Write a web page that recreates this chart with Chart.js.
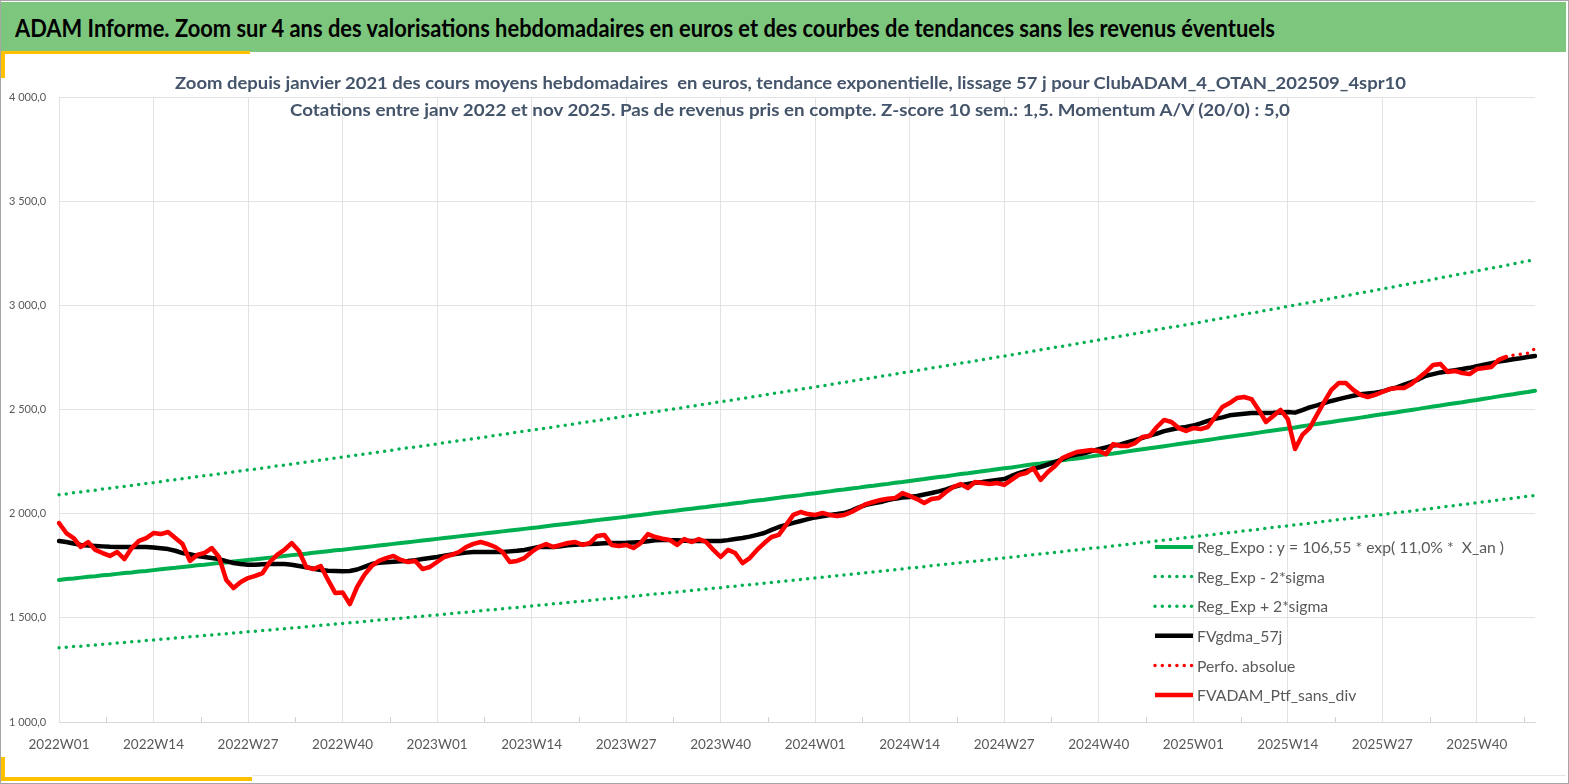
<!DOCTYPE html>
<html lang="fr">
<head>
<meta charset="utf-8">
<title>ADAM Informe</title>
<script src="https://cdn.jsdelivr.net/npm/chart.js@4.4.1/dist/chart.umd.min.js"></script>
<style>
  html, body { margin: 0; padding: 0; background: #fff; }
  #page { position: relative; width: 1569px; height: 784px; overflow: hidden; background: #fff; font-family: Lato, "Open Sans", sans-serif; }
  #graphique { position: absolute; left: 0; top: 0; }
  #bandeau { position: absolute; left: 0; top: 2px; width: 1566px; height: 50px; background: #7DC67E; }
  .jaune { position: absolute; background: #FFC000; }
  .ajuste { position: absolute; display: inline-block; white-space: pre; transform-origin: left center; font-weight: bold; }
  #texteBandeau { top: 13px; font-size: 24px; line-height: 30px; color: #000; }
  .titre { font-size: 17.5px; line-height: 22px; color: #44546A; }
  #cadre { position: absolute; left: 0; top: 0; width: 1567px; height: 782px; border: 1px solid #A6A6A6; pointer-events: none; }
  #filet { position: absolute; left: 252px; top: 775px; width: 1314px; height: 1px; background: #E6E6E6; }
</style>
</head>
<body>
<div id="page">
  <canvas id="graphique" width="1569" height="784"></canvas>
  <div id="bandeau"></div>
  <span id="texteBandeau" class="ajuste" data-gauche="15" data-largeur="1260">ADAM Informe. Zoom sur 4 ans des valorisations hebdomadaires en euros et des courbes de tendances sans les revenus éventuels</span>
  <div class="jaune" style="left:0;top:51px;width:250px;height:3px"></div>
  <div class="jaune" style="left:0;top:51px;width:5px;height:27px"></div>
  <div class="jaune" style="left:0;top:777px;width:252px;height:4px"></div>
  <div class="jaune" style="left:0;top:757px;width:5px;height:24px"></div>
  <div id="filet"></div>
  <span class="ajuste titre" style="top:72px" data-centre="790" data-largeur="1231">Zoom depuis janvier 2021 des cours moyens hebdomadaires  en euros, tendance exponentielle, lissage 57 j pour ClubADAM_4_OTAN_202509_4spr10</span>
  <span class="ajuste titre" style="top:99px" data-centre="790" data-largeur="1000">Cotations entre janv 2022 et nov 2025. Pas de revenus pris en compte. Z-score 10 sem.: 1,5. Momentum A/V (20/0) : 5,0</span>
  <div id="cadre"></div>
</div>

<script>
// Semaines ISO affichées (2022W01 -> 2025W48)
const annees = [2022, 2023, 2024, 2025];
const nbSemaines = [52, 52, 52, 48];
const semaines = [];
annees.forEach((a, k) => {
    for (let w = 1; w <= nbSemaines[k]; w++) semaines.push(a + 'W' + String(w).padStart(2, '0'));
});

// Valorisation hebdo du portefeuille (sans dividendes), jusqu'à 2025W44
const ptfSansDiv = [
    1955, 1907, 1883, 1840, 1864, 1826, 1811, 1797, 1816, 1782,
    1835, 1869, 1883, 1907, 1902, 1912, 1883, 1854, 1773, 1802,
    1811, 1835, 1792, 1682, 1643, 1672, 1691, 1701, 1715, 1768,
    1802, 1826, 1859, 1821, 1744, 1734, 1749, 1682, 1619, 1622,
    1566, 1648, 1706, 1749, 1773, 1787, 1797, 1778, 1768, 1773,
    1734, 1744, 1768, 1792, 1802, 1816, 1840, 1855, 1864, 1854,
    1840, 1816, 1768, 1773, 1787, 1816, 1840, 1854, 1840, 1850,
    1859, 1864, 1850, 1859, 1893, 1898, 1850, 1845, 1850, 1835,
    1859, 1902, 1888, 1880, 1874, 1850, 1878, 1864, 1878, 1864,
    1826, 1792, 1826, 1811, 1763, 1787, 1826, 1859, 1888, 1898,
    1946, 1994, 2008, 1998, 1994, 2003, 1994, 1989, 1994, 2008,
    2027, 2046, 2056, 2066, 2072, 2075, 2099, 2085, 2070, 2051,
    2070, 2075, 2104, 2128, 2142, 2123, 2152, 2147, 2142, 2147,
    2138, 2162, 2186, 2195, 2219, 2162, 2200, 2229, 2267, 2282,
    2296, 2301, 2306, 2301, 2286, 2334, 2325, 2325, 2339, 2368,
    2373, 2416, 2450, 2440, 2411, 2397, 2411, 2406, 2416, 2464,
    2512, 2531, 2555, 2560, 2550, 2498, 2440, 2469, 2498, 2454,
    2310, 2378, 2411, 2474, 2536, 2594, 2627, 2627, 2594, 2570,
    2560, 2570, 2584, 2598, 2603, 2603, 2622, 2651, 2680, 2714,
    2718, 2680, 2685, 2675, 2670, 2694, 2699, 2704, 2738, 2752
];

// Perfo. absolue : visible seulement sur les dernières semaines
const perfoSemaines = ['2025W44', '2025W45', '2025W46', '2025W47', '2025W48'];
const perfoValeurs = [2752, 2760, 2765, 2770, 2792];

// Moyenne mobile 57 j
const gdma57j = [
    1869, 1864, 1857, 1850, 1847, 1845, 1843, 1841, 1840, 1840,
    1840, 1840, 1840, 1838, 1834, 1830, 1822, 1811, 1805, 1797,
    1792, 1787, 1782, 1772, 1763, 1758, 1755, 1755, 1757, 1758,
    1758, 1758, 1755, 1749, 1743, 1736, 1730, 1726, 1725, 1724,
    1725, 1732, 1745, 1758, 1764, 1767, 1769, 1771, 1773, 1777,
    1782, 1787, 1792, 1798, 1804, 1809, 1813, 1816, 1816, 1816,
    1816, 1816, 1819, 1822, 1826, 1833, 1840, 1840, 1840, 1843,
    1848, 1851, 1853, 1854, 1856, 1858, 1859, 1859, 1860, 1862,
    1864, 1868, 1872, 1874, 1873, 1872, 1870, 1869, 1869, 1869,
    1869, 1869, 1873, 1878, 1883, 1890, 1898, 1907, 1922, 1936,
    1946, 1956, 1965, 1974, 1982, 1988, 1994, 1998, 2003, 2015,
    2030, 2042, 2050, 2056, 2065, 2072, 2077, 2080, 2085, 2092,
    2099, 2107, 2116, 2128, 2137, 2143, 2148, 2152, 2157, 2162,
    2166, 2181, 2195, 2205, 2215, 2224, 2236, 2248, 2262, 2277,
    2284, 2290, 2300, 2309, 2318, 2327, 2332, 2343, 2353, 2364,
    2375, 2384, 2396, 2404, 2411, 2416, 2423, 2433, 2445, 2455,
    2462, 2472, 2476, 2480, 2483, 2483, 2483, 2484, 2486, 2488,
    2485, 2497, 2510, 2520, 2531, 2541, 2550, 2558, 2566, 2573,
    2577, 2581, 2586, 2598, 2606, 2619, 2631, 2645, 2662, 2670,
    2678, 2684, 2689, 2694, 2700, 2708, 2715, 2722, 2730, 2735,
    2741, 2746, 2752, 2757
];

// Régression exponentielle
const regExpo = [
    1682, 1686, 1689, 1693, 1697, 1700, 1704, 1707, 1711, 1715, 1718, 1722, 1725, 1729,
    1733, 1737, 1740, 1744, 1748, 1752, 1755, 1759, 1763, 1766, 1770, 1774, 1778,
    1781, 1785, 1789, 1793, 1797, 1801, 1804, 1808, 1812, 1816, 1820, 1824, 1827,
    1831, 1835, 1839, 1843, 1847, 1851, 1855, 1859, 1863, 1867, 1871, 1875, 1879,
    1883, 1887, 1891, 1895, 1899, 1903, 1907, 1911, 1915, 1919, 1923, 1927, 1931,
    1935, 1940, 1944, 1948, 1952, 1956, 1960, 1965, 1969, 1973, 1977, 1981, 1985,
    1990, 1994, 1998, 2003, 2007, 2011, 2015, 2020, 2024, 2028, 2032, 2037, 2041,
    2045, 2050, 2054, 2059, 2063, 2067, 2072, 2076, 2081, 2085, 2089, 2094, 2098,
    2103, 2107, 2112, 2116, 2121, 2125, 2130, 2134, 2139, 2143, 2148, 2152, 2157,
    2162, 2166, 2171, 2176, 2180, 2185, 2190, 2194, 2199, 2204, 2208, 2213, 2218,
    2222, 2227, 2232, 2237, 2241, 2246, 2251, 2256, 2261, 2265, 2270, 2275, 2280,
    2285, 2289, 2294, 2299, 2304, 2309, 2314, 2319, 2324, 2329, 2334, 2339, 2344,
    2349, 2354, 2359, 2364, 2369, 2374, 2379, 2384, 2389, 2394, 2399, 2404, 2409,
    2414, 2420, 2425, 2430, 2435, 2440, 2446, 2451, 2456, 2461, 2466, 2472, 2477,
    2482, 2487, 2493, 2498, 2503, 2509, 2514, 2519, 2525, 2530, 2535, 2541, 2546,
    2552, 2557, 2563, 2568, 2573, 2579, 2584, 2590
];

// Bande basse (- 2 sigma)
const bandeBasse = [
    1356, 1359, 1362, 1364, 1367, 1370, 1373, 1376, 1379, 1382, 1385, 1388, 1391, 1394,
    1397, 1400, 1403, 1406, 1409, 1412, 1415, 1418, 1421, 1424, 1427, 1430, 1433,
    1436, 1439, 1442, 1445, 1448, 1451, 1454, 1457, 1461, 1464, 1467, 1470, 1473,
    1476, 1479, 1482, 1486, 1489, 1492, 1495, 1498, 1502, 1505, 1508, 1511, 1514,
    1517, 1521, 1524, 1527, 1530, 1534, 1537, 1540, 1544, 1547, 1550, 1553, 1557,
    1560, 1563, 1567, 1570, 1573, 1577, 1580, 1583, 1587, 1590, 1593, 1597, 1600,
    1604, 1607, 1611, 1614, 1617, 1621, 1624, 1628, 1631, 1635, 1638, 1642, 1645,
    1649, 1652, 1656, 1659, 1663, 1666, 1670, 1673, 1677, 1681, 1684, 1688, 1691,
    1695, 1698, 1702, 1706, 1709, 1713, 1717, 1720, 1724, 1728, 1731, 1735, 1739,
    1742, 1746, 1750, 1754, 1757, 1761, 1765, 1769, 1772, 1776, 1780, 1784, 1787,
    1791, 1795, 1799, 1803, 1807, 1810, 1814, 1818, 1822, 1826, 1830, 1834, 1837,
    1841, 1845, 1849, 1853, 1857, 1861, 1865, 1869, 1873, 1877, 1881, 1885, 1889,
    1893, 1897, 1901, 1905, 1909, 1913, 1917, 1921, 1925, 1930, 1934, 1938, 1942,
    1946, 1950, 1954, 1958, 1963, 1967, 1971, 1975, 1979, 1984, 1988, 1992, 1996,
    2001, 2005, 2009, 2013, 2018, 2022, 2026, 2031, 2035, 2039, 2044, 2048, 2052,
    2057, 2061, 2065, 2070, 2074, 2079, 2083, 2087
];

// Bande haute (+ 2 sigma)
const bandeHaute = [
    2091, 2095, 2100, 2104, 2109, 2113, 2118, 2122, 2127, 2131, 2136, 2140, 2145, 2149,
    2154, 2159, 2163, 2168, 2173, 2177, 2182, 2186, 2191, 2196, 2200, 2205, 2210,
    2214, 2219, 2224, 2229, 2233, 2238, 2243, 2248, 2252, 2257, 2262, 2267, 2272,
    2276, 2281, 2286, 2291, 2296, 2301, 2306, 2311, 2316, 2320, 2325, 2330, 2335,
    2340, 2345, 2350, 2355, 2360, 2365, 2370, 2375, 2380, 2386, 2391, 2396, 2401,
    2406, 2411, 2416, 2421, 2426, 2432, 2437, 2442, 2447, 2452, 2458, 2463, 2468,
    2473, 2479, 2484, 2489, 2494, 2500, 2505, 2510, 2516, 2521, 2526, 2532, 2537,
    2542, 2548, 2553, 2559, 2564, 2570, 2575, 2581, 2586, 2592, 2597, 2603, 2608,
    2614, 2619, 2625, 2631, 2636, 2642, 2647, 2653, 2659, 2664, 2670, 2676, 2681,
    2687, 2693, 2699, 2704, 2710, 2716, 2722, 2727, 2733, 2739, 2745, 2751, 2756,
    2762, 2768, 2774, 2780, 2786, 2792, 2798, 2804, 2810, 2816, 2822, 2828, 2834,
    2840, 2846, 2852, 2858, 2864, 2870, 2876, 2883, 2889, 2895, 2901, 2907, 2913,
    2919, 2926, 2932, 2938, 2944, 2951, 2957, 2963, 2969, 2976, 2982, 2988, 2995,
    3001, 3007, 3014, 3020, 3027, 3033, 3040, 3046, 3053, 3059, 3066, 3072, 3079,
    3085, 3092, 3098, 3105, 3112, 3118, 3125, 3132, 3138, 3145, 3152, 3158, 3165,
    3172, 3178, 3185, 3192, 3199, 3206, 3212, 3219
];

const VERT = '#00B050';
const ROUGE = '#FF0000';
const GRIS_TEXTE = '#595959';
const GRILLE = '#E2E2E2';

// format "4 000,0"
function formatFr(v) {
    const parts = v.toFixed(1).split('.');
    return parts[0].replace(/\B(?=(\d{3})+(?!\d))/g, ' ') + ',' + parts[1];
}

// petites graduations entre les étiquettes
const graduations = {
    id: 'graduations',
    beforeDatasetsDraw(chart) {
        const sx = chart.scales.x, ctx = chart.ctx, bas = chart.chartArea.bottom;
        ctx.save();
        ctx.strokeStyle = '#D0D0D0';
        ctx.lineWidth = 1;
        for (let i = 6.5; i < semaines.length - 1; i += 13) {
            const px = Math.round(sx.getPixelForValue(i)) + 0.5;
            ctx.beginPath();
            ctx.moveTo(px, bas - 5);
            ctx.lineTo(px, bas);
            ctx.stroke();
        }
        ctx.restore();
    }
};

// légende dessinée dans la zone du graphique (en bas à droite)
const ordreLegende = [0, 1, 2, 3, 4, 5];
const legendeInterne = {
    id: 'legendeInterne',
    afterDraw(chart) {
        const ctx = chart.ctx;
        const zone = chart.chartArea;
        const x0 = zone.right - 380;
        const y0 = zone.bottom - 175;
        ctx.save();
        ctx.font = '16px Lato, "Open Sans", sans-serif';
        const echelle = 307 / ctx.measureText(chart.data.datasets[ordreLegende[0]].label).width;
        ordreLegende.forEach((di, k) => {
            const ds = chart.data.datasets[di];
            const y = y0 + k * 29.6;
            ctx.beginPath();
            ctx.strokeStyle = ds.borderColor;
            ctx.lineWidth = ds.borderWidth;
            ctx.setLineDash(ds.borderDash || []);
            ctx.lineCap = ds.borderCapStyle || 'butt';
            ctx.moveTo(x0, y);
            ctx.lineTo(x0 + 38, y);
            ctx.stroke();
            ctx.setLineDash([]);
            ctx.save();
            ctx.translate(x0 + 42, y);
            ctx.scale(echelle, 1);
            ctx.fillStyle = GRIS_TEXTE;
            ctx.textBaseline = 'middle';
            ctx.fillText(ds.label, 0, 1);
            ctx.restore();
        });
        ctx.restore();
    }
};

const pointille = { borderDash: [0, 7.3], borderCapStyle: 'round', borderWidth: 3.5 };

const config = {
    type: 'line',
    data: {
        labels: semaines,
        datasets: [
            { label: 'Reg_Expo : y = 106,55 * exp( 11,0% *  X_an )', data: regExpo, borderColor: VERT, borderWidth: 4, order: 3 },
            Object.assign({ label: 'Reg_Exp - 2*sigma', data: bandeBasse, borderColor: VERT, order: 4 }, pointille),
            Object.assign({ label: 'Reg_Exp + 2*sigma', data: bandeHaute, borderColor: VERT, order: 5 }, pointille),
            { label: 'FVgdma_57j', data: gdma57j, borderColor: '#000000', borderWidth: 4.5, order: 2 },
            Object.assign({ label: 'Perfo. absolue', data: perfoSemaines.map((s, i) => ({ x: s, y: perfoValeurs[i] })), borderColor: ROUGE, order: 1 }, pointille),
            { label: 'FVADAM_Ptf_sans_div', data: ptfSansDiv, borderColor: ROUGE, borderWidth: 4.5, order: 0 }
        ]
    },
    options: {
        responsive: false,
        animation: false,
        events: [],
        layout: { padding: { top: 97, left: 9, right: 34, bottom: 0 } },
        elements: {
            point: { radius: 0 },
            line: { tension: 0, fill: false, borderJoinStyle: 'round', borderCapStyle: 'round' }
        },
        plugins: {
            legend: { display: false },
            title: { display: false },
            tooltip: { enabled: false }
        },
        scales: {
            x: {
                type: 'category',
                offset: false,
                afterFit: s => { s.height = 62; },
                grid: {
                    color: c => (c.index % 13 === 0 ? GRILLE : 'rgba(0,0,0,0)'),
                    drawTicks: false,
                    lineWidth: 1
                },
                border: { color: '#D9D9D9' },
                ticks: {
                    autoSkip: false,
                    maxRotation: 0,
                    padding: 15,
                    color: GRIS_TEXTE,
                    font: { family: 'Lato, "Open Sans", sans-serif', size: 13.5 },
                    callback: function (val, i) { return i % 13 === 0 ? this.getLabelForValue(val) : ''; }
                }
            },
            y: {
                min: 1000,
                max: 4000,
                afterFit: s => { s.width = 50; },
                grid: { color: GRILLE, drawTicks: false },
                border: { display: false },
                ticks: {
                    stepSize: 500,
                    crossAlign: 'far',
                    padding: 0,
                    color: GRIS_TEXTE,
                    font: { family: 'Lato, "Open Sans", sans-serif', size: 11 },
                    callback: v => formatFr(v)
                }
            }
        }
    },
    plugins: [graduations, legendeInterne]
};

function ajusterTextes() {
    document.querySelectorAll('.ajuste').forEach(el => {
        el.style.transform = 'none';
        const w = el.getBoundingClientRect().width;
        const cible = +el.dataset.largeur;
        const gauche = el.dataset.centre ? (+el.dataset.centre - cible / 2) : +el.dataset.gauche;
        el.style.left = gauche + 'px';
        el.style.transform = 'scaleX(' + (cible / w) + ')';
    });
}

document.addEventListener('DOMContentLoaded', function () {
    ajusterTextes();
    const ctx = document.getElementById('graphique').getContext('2d');
    const graphique = new Chart(ctx, config);
    if (document.fonts && document.fonts.ready) {
        document.fonts.ready.then(() => { ajusterTextes(); graphique.update('none'); });
    }
});
</script>
</body>
</html>
